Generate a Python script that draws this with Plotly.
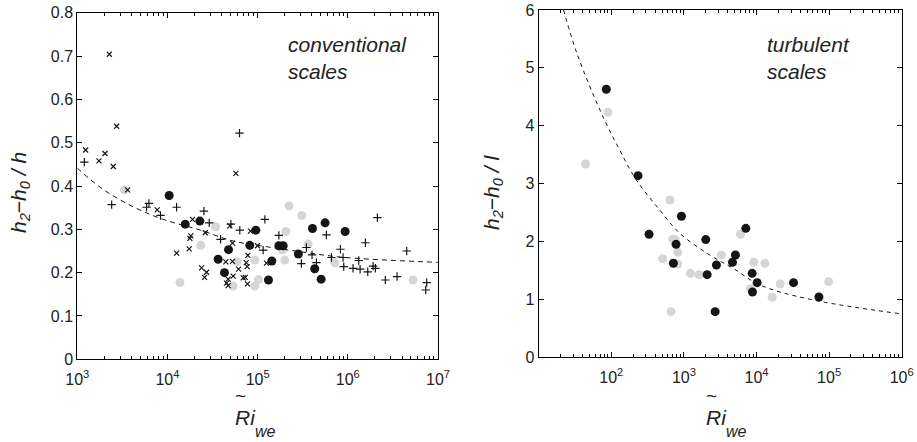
import numpy as np
import plotly.graph_objects as go

W, H = 917, 442

# ---------------- Left panel data (conventional scales) ----------------
L_black_logx = [4.019, 4.197, 4.359, 4.562, 4.677, 4.632, 4.913, 4.980, 5.120, 5.157,
                5.235, 5.283, 5.452, 5.608, 5.633, 5.704, 5.748, 5.970]
L_black_y = [0.378, 0.312, 0.319, 0.231, 0.253, 0.200, 0.263, 0.298, 0.183, 0.227,
             0.262, 0.262, 0.243, 0.302, 0.209, 0.185, 0.315, 0.295]

L_gray_logx = [3.521, 4.138, 4.370, 4.533, 4.728, 4.773, 4.969, 4.969, 5.009, 5.275,
               5.301, 5.312, 5.349, 5.489, 5.559, 5.855, 6.723]
L_gray_y = [0.391, 0.177, 0.263, 0.306, 0.169, 0.225, 0.229, 0.169, 0.184, 0.252,
            0.229, 0.295, 0.354, 0.332, 0.266, 0.223, 0.183]

L_x_logx = [3.092, 3.355, 3.240, 3.307, 3.399, 3.436, 3.558, 4.758, 3.886, 4.101,
            4.241, 4.248, 4.259, 4.278, 4.692, 4.419, 4.378, 4.433, 4.411, 4.647,
            4.721, 4.673, 4.655, 4.673, 4.728, 4.788, 4.840, 4.862, 4.884, 4.873,
            4.891, 4.887, 4.998, 5.098, 4.721, 4.920]
L_x_y = [0.483, 0.704, 0.458, 0.475, 0.445, 0.538, 0.391, 0.429, 0.345, 0.245,
         0.255, 0.279, 0.285, 0.323, 0.308, 0.292, 0.211, 0.201, 0.189, 0.225,
         0.226, 0.185, 0.176, 0.170, 0.192, 0.208, 0.188, 0.189, 0.214, 0.223,
         0.240, 0.174, 0.262, 0.222, 0.268, 0.296]

L_plus_logx = [3.078, 3.381, 3.768, 3.794, 3.923, 4.101, 4.404, 4.463, 4.589, 4.703,
               4.799, 4.802, 5.080, 5.235, 5.061, 5.541, 5.485, 5.603, 5.652, 5.762,
               5.818, 5.918, 5.947, 5.955, 6.058, 6.121, 6.136, 6.195, 6.221, 6.280,
               6.306, 6.328, 6.416, 6.546, 6.653, 6.875, 6.864]
L_plus_y = [0.455, 0.357, 0.351, 0.360, 0.332, 0.351, 0.342, 0.315, 0.277, 0.312,
            0.522, 0.298, 0.323, 0.286, 0.252, 0.258, 0.221, 0.241, 0.223, 0.287,
            0.235, 0.254, 0.235, 0.214, 0.210, 0.228, 0.208, 0.269, 0.202, 0.215,
            0.210, 0.327, 0.183, 0.191, 0.250, 0.177, 0.160]

L_fit_logx = [3.000, 3.288, 3.620, 3.953, 4.359, 4.728, 5.098, 5.467, 5.947, 6.981, 7.0]
L_fit_y = [0.441, 0.392, 0.352, 0.323, 0.2985, 0.273, 0.260, 0.2485, 0.2354, 0.2238, 0.2236]

# ---------------- Right panel data (turbulent scales) ----------------
R_black_logx = [1.931, 2.368, 2.520, 2.966, 2.892, 2.855, 3.301, 3.320, 3.430, 3.448,
                3.669, 3.710, 3.853, 3.940, 3.945, 4.009, 4.510, 4.860]
R_black_y = [4.630, 3.138, 2.125, 2.436, 1.952, 1.624, 2.033, 1.428, 0.789, 1.595,
             1.641, 1.768, 2.228, 1.451, 1.129, 1.290, 1.290, 1.042]

R_gray_logx = [1.646, 1.954, 2.809, 2.823, 2.708, 2.846, 2.880, 2.915, 2.915, 3.090,
               3.209, 3.517, 3.779, 3.963, 4.115, 3.917, 4.216, 4.326, 4.993]
R_gray_y = [3.340, 4.232, 2.718, 0.789, 1.704, 2.038, 2.030, 1.814, 1.612, 1.451,
            1.428, 1.768, 2.125, 1.641, 1.624, 1.186, 1.036, 1.267, 1.307]

R_fit_logx = [1.343, 1.526, 1.885, 2.115, 2.345, 2.667, 2.943, 3.356, 3.678, 4.046, 4.736, 6.000]
R_fit_y = [6.000, 5.251, 4.157, 3.582, 3.063, 2.545, 2.142, 1.768, 1.537, 1.250, 1.002, 0.749]

L_xtick_vals = [1e3, 1e4, 1e5, 1e6, 1e7]
L_xtick_text = ["10<sup>3</sup>", "10<sup>4</sup>", "10<sup>5</sup>", "10<sup>6</sup>", "10<sup>7</sup>"]
R_xtick_vals = [1e2, 1e3, 1e4, 1e5, 1e6]
R_xtick_text = ["10<sup>2</sup>", "10<sup>3</sup>", "10<sup>4</sup>", "10<sup>5</sup>", "10<sup>6</sup>"]
L_decades = [3, 4, 5, 6]
R_decades = [1, 2, 3, 4, 5]
minor_mult = [2, 3, 4, 5, 6, 7, 8, 9]


def p10(a):
    return [10 ** v for v in a]


def minor_vals(decades):
    return [m * 10 ** d for d in decades for m in minor_mult]


BLACK = "#151515"
GRAY = "#d6d6d6"
FONT = "Liberation Sans"

fig = go.Figure()

# left panel
fig.add_trace(go.Scatter(x=p10(L_gray_logx), y=L_gray_y, mode="markers",
                         marker=dict(size=9, color=GRAY), xaxis="x", yaxis="y"))
fig.add_trace(go.Scatter(x=p10(L_black_logx), y=L_black_y, mode="markers",
                         marker=dict(size=9, color=BLACK), xaxis="x", yaxis="y"))
fig.add_trace(go.Scatter(x=p10(L_fit_logx), y=L_fit_y, mode="lines", line_shape="spline",
                         line=dict(color=BLACK, width=1, dash="5px,4px"), xaxis="x", yaxis="y"))
fig.add_trace(go.Scatter(x=p10(L_x_logx), y=L_x_y, mode="markers",
                         marker=dict(symbol="x-thin", size=5, line=dict(width=1.2, color=BLACK)),
                         xaxis="x", yaxis="y"))
fig.add_trace(go.Scatter(x=p10(L_plus_logx), y=L_plus_y, mode="markers",
                         marker=dict(symbol="cross-thin", size=6, line=dict(width=1.2, color=BLACK)),
                         xaxis="x", yaxis="y"))

# right panel
fig.add_trace(go.Scatter(x=p10(R_gray_logx), y=R_gray_y, mode="markers",
                         marker=dict(size=9, color=GRAY), xaxis="x2", yaxis="y2"))
fig.add_trace(go.Scatter(x=p10(R_black_logx), y=R_black_y, mode="markers",
                         marker=dict(size=9, color=BLACK), xaxis="x2", yaxis="y2"))
fig.add_trace(go.Scatter(x=p10(R_fit_logx), y=R_fit_y, mode="lines", line_shape="spline",
                         line=dict(color=BLACK, width=1, dash="4px,4px"), xaxis="x2", yaxis="y2"))


def px(x):
    return x / W


def py(y):
    return 1 - y / H


axis_common = dict(showline=True, linecolor="black", linewidth=1, mirror="ticks",
                   ticks="inside", ticklen=5, tickcolor="black", showgrid=False,
                   zeroline=False, automargin=False,
                   tickfont=dict(family=FONT, size=16, color="#222"))

fig.update_layout(
    width=W, height=H, margin=dict(l=0, r=0, t=0, b=0, autoexpand=False),
    paper_bgcolor="white", plot_bgcolor="white", showlegend=False,
    xaxis=dict(type="log", range=[3, 7], domain=[px(77.3), px(438)], anchor="y",
               tickvals=L_xtick_vals, ticktext=L_xtick_text, ticklabelstandoff=5,
               minor=dict(tickvals=minor_vals(L_decades), ticks="inside", ticklen=3,
                          tickcolor="black", showgrid=False),
               **axis_common),
    yaxis=dict(range=[0, 0.8], domain=[py(359.3), py(12.7)], anchor="x", dtick=0.1,
               **axis_common),
    xaxis2=dict(type="log", range=[1, 6], domain=[px(538.7), px(901.7)], anchor="y2",
                tickvals=R_xtick_vals, ticktext=R_xtick_text, ticklabelstandoff=5,
                minor=dict(tickvals=minor_vals(R_decades), ticks="inside", ticklen=3,
                           tickcolor="black", showgrid=False),
                **axis_common),
    yaxis2=dict(range=[0, 6], domain=[py(357.3), py(10)], anchor="x2", dtick=1,
                **axis_common),
)

ann_font = dict(family=FONT, size=21, color="#222")
lab_font = dict(family=FONT, size=21, color="#222")
sub_font = dict(family=FONT, size=16, color="#222")
tilde_font = dict(family=FONT, size=19, color="#222")
annotations = [
    dict(text="<i>conventional<br>scales</i>", x=px(286), y=py(31), xanchor="left", yanchor="top",
         align="left", font=ann_font),
    dict(text="<i>turbulent<br>scales</i>", x=px(765), y=py(31), xanchor="left", yanchor="top",
         align="left", font=ann_font),
    dict(text="<i>h<sub>2</sub>\u2212h<sub>0</sub> / h</i>", x=px(20), y=py(193), textangle=-90,
         xanchor="center", yanchor="middle", font=lab_font),
    dict(text="<i>h<sub>2</sub>\u2212h<sub>0</sub> / l</i>", x=px(493), y=py(192), textangle=-90,
         xanchor="center", yanchor="middle", font=lab_font),
    # x-axis labels: tilde, Ri, subscript we
    dict(text="<i>Ri</i>", x=px(233), y=py(417), xanchor="left", yanchor="middle", font=lab_font),
    dict(text="<i>we</i>", x=px(253), y=py(431), xanchor="left", yanchor="middle", font=sub_font),
    dict(text="~", x=px(240), y=py(395), xanchor="center", yanchor="middle", font=tilde_font),
    dict(text="<i>Ri</i>", x=px(704), y=py(417), xanchor="left", yanchor="middle", font=lab_font),
    dict(text="<i>we</i>", x=px(724), y=py(431), xanchor="left", yanchor="middle", font=sub_font),
    dict(text="~", x=px(711), y=py(395), xanchor="center", yanchor="middle", font=tilde_font),
]
for a in annotations:
    a.update(xref="paper", yref="paper", showarrow=False)
fig.update_layout(annotations=annotations)

fig.write_html("out.html", config={"displayModeBar": False},
               post_script="document.body.style.margin='0';")
